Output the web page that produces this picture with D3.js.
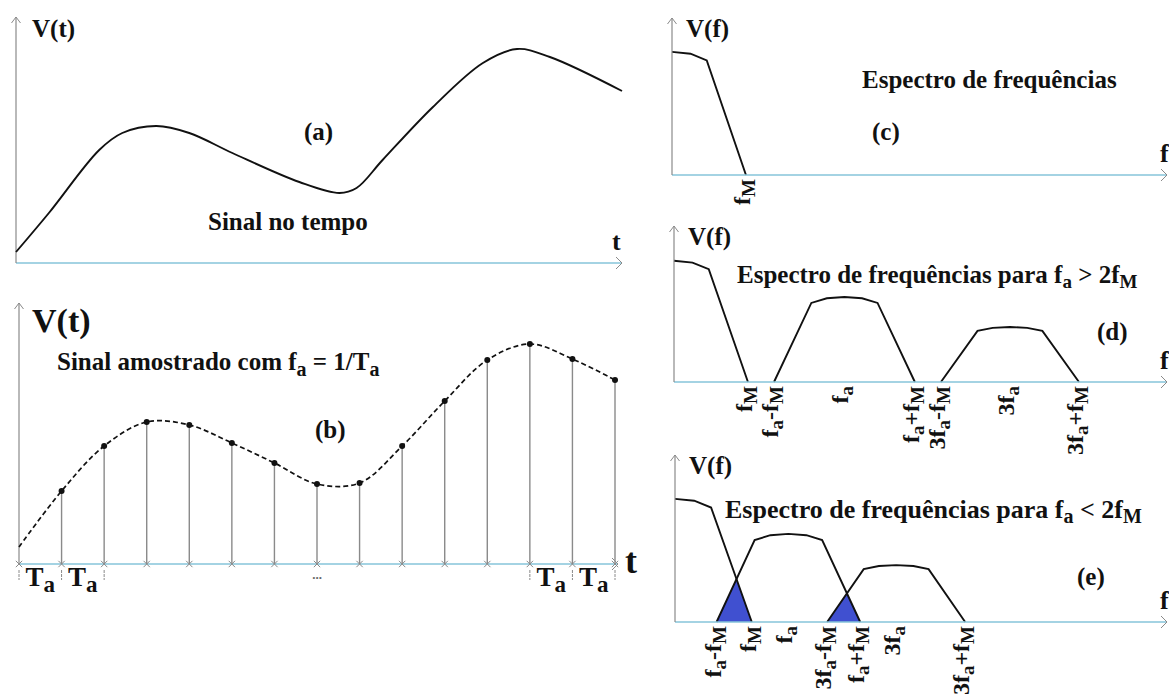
<!DOCTYPE html>
<html>
<head>
<meta charset="utf-8">
<script src="https://cdn.jsdelivr.net/npm/d3@7"></script>
<style>
  html, body { margin: 0; padding: 0; background: #fff; }
  svg { display: block; }
  text { font-family: "Liberation Serif", "Times New Roman", "DejaVu Serif", serif; font-weight: bold; fill: #111; white-space: pre; }
</style>
</head>
<body>
<div id="chart"></div>
<script>
// ---- time-domain signal (a): knots of the continuous curve ----
const timeKnots   = [0, 0.77, 1.95, 2.49, 3.29, 4.06, 5.07, 6.64, 7.58, 7.98, 8.59, 9.77, 10.94, 11.74, 12.51, 14.2];
const signalKnots = [0.55, 2.5, 5.65, 6.5, 6.85, 6.5, 5.5, 4.05, 3.5, 3.75, 5.15, 7.8, 10.0, 10.7, 10.3, 8.6];

// ---- sampled signal (b): one sample every Ta ----
const sampleIndex  = [0, 1, 2, 3, 4, 5, 6, 7, 8, 9, 10, 11, 12, 13, 14];
const sampleValues = [0.85, 3.65, 5.9, 7.1, 6.95, 6.05, 5.05, 4.0, 4.05, 5.9, 8.15, 10.2, 11.0, 10.25, 9.2];
const periodMarksLeft  = [0, 1, 2];
const periodMarksRight = [12, 13, 14];

// ---- spectra (c), (d), (e): normalised lobe outline ----
const lobeOffset = [-1, -0.47, -0.25, 0, 0.25, 0.47, 1];
const lobeLevel  = [0, 0.93, 0.985, 1, 0.985, 0.93, 0];

// lobe centre, half width (= fM) and peak, per panel
const lobesC = [{ center: 0,    half: 1.05, peak: 9.85, names: [null, null, "f{M}"] }];
const lobesD = [
  { center: 0,    half: 1.05, peak: 9.7,  names: [null, null, "f{M}"] },
  { center: 2.42, half: 1.0,  peak: 6.8,  names: ["f{a}-f{M}", "f{a}", "f{a}+f{M}"] },
  { center: 4.77, half: 0.98, peak: 4.4,  names: ["3f{a}-f{M}", "3f{a}", "3f{a}+f{M}"] }
];
const lobesE = [
  { center: 0,    half: 1.09, peak: 9.85, names: [null, null, "f{M}"] },
  { center: 1.61, half: 1.02, peak: 7.05, names: ["f{a}-f{M}", "f{a}", "f{a}+f{M}"] },
  { center: 3.14, half: 0.98, peak: 4.55, names: ["3f{a}-f{M}", "3f{a}", "3f{a}+f{M}"] }
];

// ---- texts ----
const titleA = "Sinal no tempo";
const titleB = "Sinal amostrado com f{a} = 1/T{a}";
const titleC = "Espectro de frequências";
const titleD = "Espectro de frequências para f{a} > 2f{M}";
const titleE = "Espectro de frequências para f{a} < 2f{M}";
const periodLabel = "T{a}";

const W = 1169, H = 694;
const AXIS_X = "#86c5da", AXIS_Y = "#8a8a8a", STEM = "#8a8a8a", ALIAS = "#4050d0";
const FONT = '"Liberation Serif", "Times New Roman", "DejaVu Serif", serif';

const svg = d3.select("#chart").append("svg").attr("width", W).attr("height", H);

// text with {subscript} parts
function rich(sel, str, size, subSize, drop) {
  const parts = str.split(/(\{[^}]*\})/).filter(s => s.length);
  let down = false;
  parts.forEach(p => {
    if (p[0] === "{") {
      sel.append("tspan").attr("font-size", subSize).attr("dy", down ? 0 : drop).text(p.slice(1, -1));
      down = true;
    } else {
      const t = sel.append("tspan").attr("font-size", size).text(p);
      if (down) { t.attr("dy", -drop); down = false; }
    }
  });
  return sel;
}
function label(g, str, x, y, size, subSize, drop) {
  const t = g.append("text").attr("x", x).attr("y", y)
    .attr("font-family", FONT).attr("font-weight", "bold").attr("font-size", size);
  return rich(t, str, size, subSize === undefined ? size * 0.75 : subSize, drop === undefined ? size * 0.25 : drop);
}

// axis pair with open arrowheads; the x axis is a d3 axis without ticks
function axes(g, x, yTop, axisY, xEnd) {
  const xAxis = d3.axisBottom(x).tickValues([]).tickSizeOuter(0);
  const ax = g.append("g").attr("transform", `translate(0,${axisY})`).call(xAxis);
  ax.select(".domain").attr("stroke", AXIS_X).attr("stroke-width", 1.3)
    .attr("d", `M${x.range()[0]},0H${xEnd}`);
  g.append("path").attr("d", `M${xEnd - 6},-6L${xEnd},0L${xEnd - 6},6`)
    .attr("transform", `translate(0,${axisY})`)
    .attr("fill", "none").attr("stroke", AXIS_Y).attr("stroke-width", 1);
  const x0 = x.range()[0];
  g.append("line").attr("x1", x0).attr("x2", x0).attr("y1", axisY).attr("y2", yTop)
    .attr("stroke", AXIS_Y).attr("stroke-width", 1.2);
  g.append("path").attr("d", `M${x0 - 4.5},${yTop + 6}L${x0},${yTop}L${x0 + 4.5},${yTop + 6}`)
    .attr("fill", "none").attr("stroke", AXIS_Y).attr("stroke-width", 1);
}

// ================= (a) continuous signal =================
{
  const g = svg.append("g");
  const x = d3.scaleLinear().domain([0, 14.2]).range([16, 622]);
  const y = d3.scaleLinear().domain([0, 11]).range([263, 43]);
  axes(g, x, 17, 263, 622);
  const line = d3.line().x(d => x(d[0])).y(d => y(d[1])).curve(d3.curveCatmullRom.alpha(0.5));
  g.append("path").datum(d3.zip(timeKnots, signalKnots)).attr("d", line)
    .attr("fill", "none").attr("stroke", "#111").attr("stroke-width", 1.9);
  label(g, "V(t)", 32, 37, 25);
  label(g, "t", 612, 250, 26);
  label(g, "(a)", 304, 140, 25);
  label(g, titleA, 208, 230, 25);
}

// ================= (b) sampled signal =================
{
  const g = svg.append("g");
  const x = d3.scaleLinear().domain([0, 14]).range([19, 615]);
  const y = d3.scaleLinear().domain([0, 11]).range([564, 344]);
  axes(g, x, 303, 564, 618);
  const pts = d3.zip(sampleIndex, sampleValues);
  // stems
  g.selectAll(".stem").data(pts.slice(1)).join("line").attr("class", "stem")
    .attr("x1", d => x(d[0])).attr("x2", d => x(d[0]))
    .attr("y1", y(0)).attr("y2", d => y(d[1]))
    .attr("stroke", STEM).attr("stroke-width", 1.4);
  // dashed envelope
  const line = d3.line().x(d => x(d[0])).y(d => y(d[1])).curve(d3.curveCatmullRom.alpha(0.5));
  g.append("path").datum(pts).attr("d", line)
    .attr("fill", "none").attr("stroke", "#111").attr("stroke-width", 1.7)
    .attr("stroke-dasharray", "5,3");
  // sample dots
  g.selectAll(".dot").data(pts.slice(1)).join("circle").attr("class", "dot")
    .attr("cx", d => x(d[0])).attr("cy", d => y(d[1])).attr("r", 3).attr("fill", "#111");
  // sampling instants on the axis
  const cross = d3.symbol().type(d3.symbolX).size(28);
  g.selectAll(".cross").data(sampleIndex).join("path").attr("class", "cross")
    .attr("d", cross).attr("transform", d => `translate(${x(d)},${y(0)})`)
    .attr("fill", "none").attr("stroke", "#8a8a8a").attr("stroke-width", 1);
  // Ta period marks
  [periodMarksLeft, periodMarksRight].forEach(marks => {
    g.selectAll(null).data(marks).join("line")
      .attr("x1", d => x(d)).attr("x2", d => x(d)).attr("y1", 570).attr("y2", 580)
      .attr("stroke", "#8a8a8a").attr("stroke-width", 1).attr("stroke-dasharray", "3,1");
    d3.pairs(marks).forEach(([a, b]) => {
      label(g, periodLabel, (x(a) + x(b)) / 2, 586, 27, 23, 6).attr("text-anchor", "middle");
    });
  });
  g.append("text").attr("x", x(7)).attr("y", 579).attr("text-anchor", "middle")
    .attr("font-size", 13).attr("font-weight", "normal").style("fill", "#666").text("...");
  label(g, "V(t)", 32, 332, 34);
  label(g, "t", 625, 573, 36);
  label(g, titleB, 57, 370, 25, 20, 6);
  label(g, "(b)", 315, 438, 25);
}

// ================= spectra =================
function spectrum(lobes, x0, yTop, axisY, alias) {
  const g = svg.append("g");
  const x = d3.scaleLinear().domain([0, 7]).range([x0, x0 + 493]);
  const y = d3.scaleLinear().domain([0, 10]).range([axisY, axisY - 125]);
  const outline = l => d3.zip(lobeOffset, lobeLevel)
    .map(([o, v]) => [l.center + o * l.half, v * l.peak])
    .filter(d => d[0] >= 0);
  const line = d3.line().x(d => x(d[0])).y(d => y(d[1]));

  // overlap (aliasing) triangles between neighbouring lobes
  if (alias) {
    d3.pairs(lobes).forEach(([a, b]) => {
      const fa = outline(a), fb = outline(b);
      // falling edge of a, rising edge of b
      const p1 = fa[fa.length - 2], p2 = fa[fa.length - 1];
      const q1 = fb[0], q2 = fb[1];
      const s1 = (p2[1] - p1[1]) / (p2[0] - p1[0]);
      const s2 = (q2[1] - q1[1]) / (q2[0] - q1[0]);
      const xi = (q1[1] - p1[1] + s1 * p1[0] - s2 * q1[0]) / (s1 - s2);
      const yi = p1[1] + s1 * (xi - p1[0]);
      g.append("path").attr("d", line([[q1[0], 0], [xi, yi], [p2[0], 0]]) + "Z")
        .attr("fill", ALIAS).attr("stroke", "none");
    });
  }
  lobes.forEach(l => {
    g.append("path").attr("d", line(outline(l)))
      .attr("fill", "none").attr("stroke", "#111").attr("stroke-width", 1.9);
  });
  axes(g, x, yTop, axisY, 1167);

  // rotated frequency labels at lobe edges and centres
  lobes.forEach(l => {
    [l.center - l.half, l.center, l.center + l.half].forEach((f, i) => {
      const name = l.names[i];
      if (!name) return;
      const t = g.append("text")
        .attr("transform", `translate(${x(f) + 4},${axisY + 4}) rotate(-90)`)
        .attr("font-family", FONT).attr("font-weight", "bold")
        .attr("text-anchor", "end").attr("font-size", 24);
      rich(t, name, 24, 19, 5);
    });
  });
  label(g, "V(f)", x0 + 14, yTop + 19, 25);
  label(g, "f", 1160, axisY - 13, 26);
  return g;
}

const gC = spectrum(lobesC, 672, 18, 175, false);
label(gC, titleC, 862, 88, 25);
label(gC, "(c)", 872, 140, 25);

const gD = spectrum(lobesD, 674, 226, 382, false);
label(gD, titleD, 737, 283, 25, 19, 5);
label(gD, "(d)", 1097, 340, 25);

const gE = spectrum(lobesE, 675, 455, 622, true);
label(gE, titleE, 725, 518, 26, 20, 5);
label(gE, "(e)", 1077, 585, 25);
</script>
</body>
</html>
